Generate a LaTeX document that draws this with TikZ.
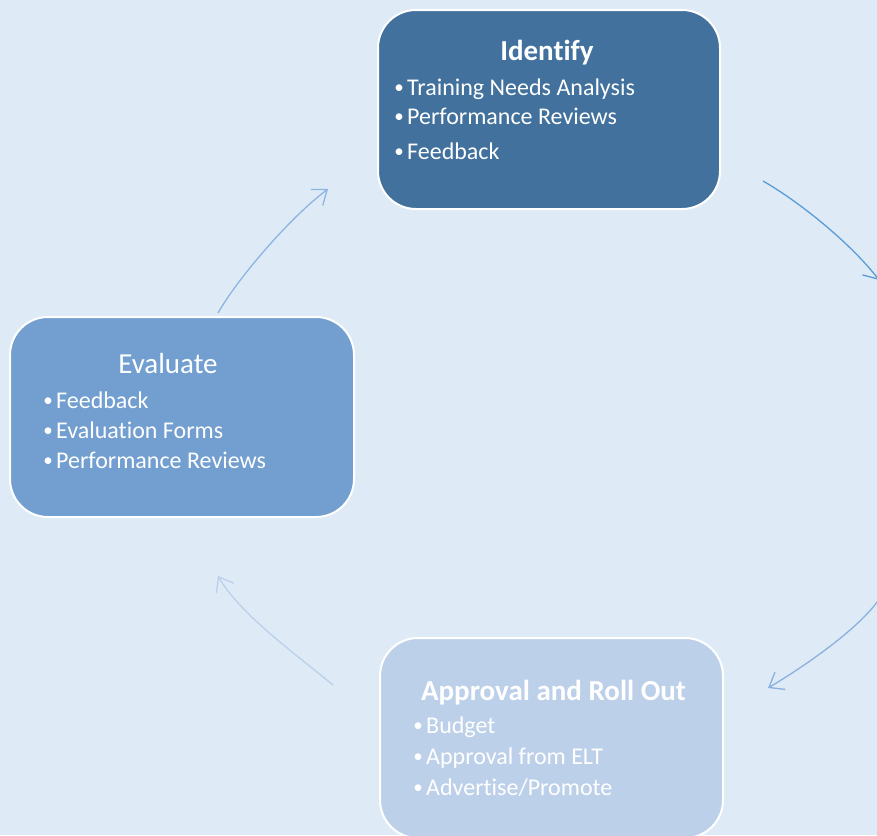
\documentclass[tikz,border=0pt]{standalone}
\usepackage{fontspec}
\setmainfont[Ligatures=NoCommon]{Carlito}
\usetikzlibrary{arrows.meta}
\definecolor{bg}{HTML}{DEEBF7}
\definecolor{boxA}{HTML}{41719C}
\definecolor{boxB}{HTML}{729FCF}
\definecolor{boxC}{HTML}{BDD0E9}
\definecolor{arrA}{HTML}{5B9BD5}
\definecolor{arrB}{HTML}{8AB0DF}
\definecolor{arrC}{HTML}{BBD0EA}
\definecolor{arrD}{HTML}{8EB4E2}
\begin{document}
\begin{tikzpicture}[x=1pt,y=-1pt,
  card/.style={draw=white, line width=2pt, rounded corners=38pt, inner sep=0pt, anchor=north west},
  ttl/.style={text=white, font=\fontsize{29}{32}\selectfont\bfseries, anchor=base, inner sep=0pt},
  ttlr/.style={text=white, font=\fontsize{29}{32}\selectfont, anchor=base, inner sep=0pt},
  item/.style={text=white, font=\fontsize{24}{28}\selectfont, anchor=base west, inner sep=0pt},
  dot/.style={text=white, font=\fontsize{19}{24}\selectfont, anchor=base, inner sep=0pt},
  flow/.style={line width=1.3pt, -{Straight Barb[length=13pt,width=20pt]}},
]
\useasboundingbox[fill=bg] (0,0) rectangle (877,835);
\clip (0,0) rectangle (877,835);

% boxes
\node[card, fill=boxA, minimum width=342pt, minimum height=199pt] (identify) at (377,9) {};
\node[card, fill=boxB, minimum width=344pt, minimum height=200pt] (evaluate) at (9,316) {};
\node[card, fill=boxC, minimum width=343pt, minimum height=200pt] (approval) at (379,637) {};

% Identify text
\node[ttl] (idt) at (547,60) {Identify};
\node[dot] (id1d) at (399,93) {•};
\node[item] (id1) at (407,95) {Training Needs Analysis};
\node[dot] (id2d) at (399,122) {•};
\node[item] (id2) at (407,124) {Performance Reviews};
\node[dot] (id3d) at (399,157) {•};
\node[item] (id3) at (407,159) {Feedback};

% Evaluate text
\node[ttlr] (evt) at (168,373) {Evaluate};
\node[dot] (ev1d) at (48,406) {•};
\node[item] (ev1) at (56,408) {Feedback};
\node[dot] (ev2d) at (48,436) {•};
\node[item] (ev2) at (56,438) {Evaluation Forms};
\node[dot] (ev3d) at (48,466) {•};
\node[item] (ev3) at (56,468) {Performance Reviews};

% Approval text
\node[ttl] (apt) at (553.5,700) {Approval and Roll Out};
\node[dot] (ap1d) at (418,731) {•};
\node[item] (ap1) at (426,733) {Budget};
\node[dot] (ap2d) at (418,762) {•};
\node[item] (ap2) at (426,764) {Approval from ELT};
\node[dot] (ap3d) at (418,793) {•};
\node[item] (ap3) at (426,795) {Advertise/Promote};

% arrow end points
\coordinate (a1s) at (763,181);
\coordinate (a1e) at (879,280);
\coordinate (a2s) at (880,598);
\coordinate (a2e) at (768,688);
\coordinate (a3s) at (333,685);
\coordinate (a3e) at (218,576);
\coordinate (a4s) at (218,313);
\coordinate (a4e) at (328,189);

\draw[flow, draw=arrA] (a1s) .. controls (803,204) and (853,246) .. (a1e);
\draw[flow, draw=arrB] (a2s) .. controls (860,628) and (805,666) .. (a2e);
\draw[flow, draw=arrC] (a3s) .. controls (293,652) and (240,614) .. (a3e);
\draw[flow, draw=arrD] (a4s) .. controls (236,281) and (288,219) .. (a4e);
\end{tikzpicture}
\end{document}
